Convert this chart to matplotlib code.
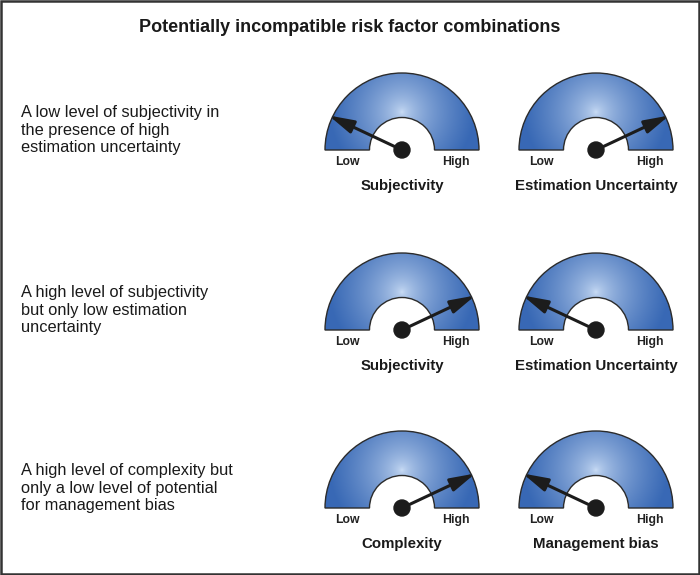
"""Gauge panel: potentially incompatible risk factor combinations."""

import matplotlib
matplotlib.use("Agg")
import matplotlib.pyplot as plt
import numpy as np
from matplotlib.patches import Circle, Rectangle, Wedge

plt.rcParams["font.family"] = ["Liberation Sans", "DejaVu Sans"]

TITLE = "Potentially incompatible risk factor combinations"
descriptions = [
    "A low level of subjectivity in\nthe presence of high\nestimation uncertainty",
    "A high level of subjectivity\nbut only low estimation\nuncertainty",
    "A high level of complexity but\nonly a low level of potential\nfor management bias",
]
left_names = ["Subjectivity", "Subjectivity", "Complexity"]
right_names = ["Estimation Uncertainty", "Estimation Uncertainty", "Management bias"]
# needle position, 0 = Low, 1 = High
left_levels = [0.14, 0.86, 0.86]
right_levels = [0.86, 0.14, 0.14]
scale_labels = ["Low", "High"]

W, H = 700, 575
row_y = [150, 330, 508]
col_x = [402, 596]
R_OUT, R_IN = 77, 32.5

# radial gradient image, light spot a bit above the hub (row 0 = top)
gx, gy = np.meshgrid(np.linspace(-R_OUT, R_OUT, 300), np.linspace(-R_OUT, 0, 150))
dist = np.hypot(gx, gy + 38) / 72
dist = np.clip(dist, 0, 1)
light = np.array([0.81, 0.88, 0.97])
dark = np.array([0.22, 0.41, 0.71])
grad = light + (dark - light) * (dist[..., None] ** 0.6)


def draw_gauge(ax, cx, cy, level, name):
    # y axis is inverted, so the upper half is 180..360 degrees
    wedge = Wedge((cx, cy), R_OUT, 180, 360, width=R_OUT - R_IN,
                  facecolor="none", edgecolor="#2b2b2b", lw=1.0, zorder=3)
    ax.add_patch(wedge)
    img = ax.imshow(grad, extent=(cx - R_OUT, cx + R_OUT, cy, cy - R_OUT),
                    origin="upper", zorder=2, interpolation="bilinear")
    img.set_clip_path(wedge)

    ang = np.deg2rad(180 * (1 - level))
    L = 81
    tip = (cx + L * np.cos(ang), cy - L * np.sin(ang))
    ax.annotate("", xy=tip, xytext=(cx, cy), zorder=5,
                arrowprops=dict(arrowstyle="-|>,head_length=1.5,head_width=0.4",
                                lw=2.2, color="#1c1c1c", shrinkA=0, shrinkB=0))
    ax.add_patch(Circle((cx, cy), 8, color="#1c1c1c", zorder=6))

    ax.text(cx - 55, cy + 12, scale_labels[0], ha="center", va="center",
            fontsize=8.8, fontweight="bold", color="#222222")
    ax.text(cx + 54, cy + 12, scale_labels[1], ha="center", va="center",
            fontsize=8.8, fontweight="bold", color="#222222")
    ax.text(cx, cy + 36, name, ha="center", va="center",
            fontsize=10.8, fontweight="bold", color="#1a1a1a")


fig = plt.figure(figsize=(7, 5.75), dpi=100)
ax = fig.add_axes([0, 0, 1, 1])

ax.add_patch(Rectangle((1, 1), W - 2, H - 2, fill=False, edgecolor="#333333", lw=1.8))
ax.text(350, 28, TITLE, ha="center", va="center", fontsize=13,
        fontweight="bold", color="#1a1a1a")

for i, cy in enumerate(row_y):
    ax.text(21, cy - 20, descriptions[i], ha="left", va="center", fontsize=11.8,
            color="#1a1a1a", linespacing=1.2)
    draw_gauge(ax, col_x[0], cy, left_levels[i], left_names[i])
    draw_gauge(ax, col_x[1], cy, right_levels[i], right_names[i])

ax.set_xlim(0, W)
ax.set_ylim(H, 0)
ax.set_aspect("auto")
ax.axis("off")

fig.savefig("out.png", dpi=100)
